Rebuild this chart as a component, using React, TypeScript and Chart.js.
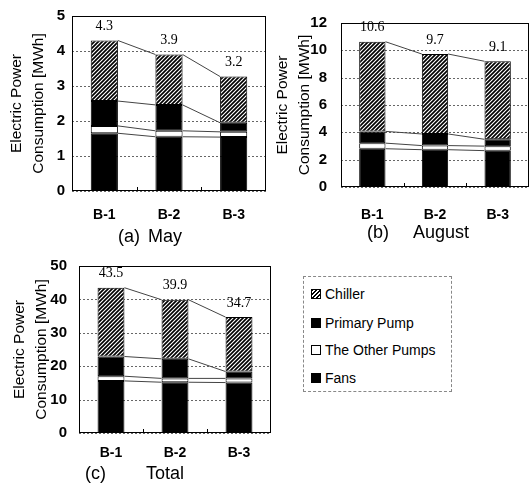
import React, { useEffect, useRef } from 'react';
import { Chart, registerables } from 'chart.js';

Chart.register(...registerables);

// ---------- data ----------
const categories = ['B-1', 'B-2', 'B-3'];
const axisTitle = ['Electric Power', 'Consumption [MWh]'];
const legendLabels = ['Chiller', 'Primary Pump', 'The Other Pumps', 'Fans'];

// (a) May
const mayFans = [1.65, 1.55, 1.54];
const mayOther = [0.21, 0.17, 0.15];
const mayPrimary = [0.71, 0.74, 0.26];
const mayChiller = [1.73, 1.44, 1.32];
const mayTotals = [4.3, 3.9, 3.2];
const mayTicks = [0, 1, 2, 3, 4, 5];

// (b) August
const augFans = [2.8, 2.73, 2.66];
const augOther = [0.41, 0.3, 0.33];
const augPrimary = [0.86, 0.85, 0.5];
const augChiller = [6.56, 5.85, 5.71];
const augTotals = [10.6, 9.7, 9.1];
const augTicks = [0, 2, 4, 6, 8, 10, 12];

// (c) Total
const totFans = [15.6, 15.2, 15.1];
const totOther = [1.4, 1.15, 1.25];
const totPrimary = [5.9, 5.85, 2.05];
const totChiller = [20.6, 17.7, 16.3];
const totTotals = [43.5, 39.9, 34.7];
const totTicks = [0, 10, 20, 30, 40, 50];

const SANS = '"Liberation Sans", Arial, Helvetica, sans-serif';
const SERIF = '"Liberation Serif", "Times New Roman", serif';

function makeHatch(): CanvasPattern | string {
  const c = document.createElement('canvas');
  c.width = 4;
  c.height = 4;
  const g = c.getContext('2d');
  if (!g) return '#555';
  g.fillStyle = '#fff';
  g.fillRect(0, 0, 4, 4);
  g.strokeStyle = '#000';
  g.lineWidth = 1.7;
  g.beginPath();
  g.moveTo(0, 4); g.lineTo(4, 0);
  g.moveTo(-1, 1); g.lineTo(1, -1);
  g.moveTo(3, 5); g.lineTo(5, 3);
  g.stroke();
  return g.createPattern(c, 'repeat') || '#555';
}

const decorPlugin = {
  id: 'decor',
  beforeDatasetsDraw(chart: any) {
    // dotted horizontal grid lines
    const ctx = chart.ctx as CanvasRenderingContext2D;
    const ys = chart.scales.y;
    const { left, right } = chart.chartArea;
    ctx.save();
    ctx.strokeStyle = '#666';
    ctx.lineWidth = 1;
    ctx.setLineDash([2, 2]);
    ys.ticks.forEach((t: any) => {
      const py = Math.round(ys.getPixelForValue(t.value)) + 0.5;
      ctx.beginPath();
      ctx.moveTo(left, py);
      ctx.lineTo(right, py);
      ctx.stroke();
    });
    ctx.restore();
  },
  afterDatasetsDraw(chart: any, _args: any, opts: any) {
    const ctx = chart.ctx as CanvasRenderingContext2D;
    const n = chart.data.datasets.length;
    ctx.save();
    // connecting lines between stacked segment tops
    ctx.strokeStyle = '#444';
    ctx.lineWidth = 1;
    for (let d = 0; d < n; d++) {
      const meta = chart.getDatasetMeta(d);
      for (let i = 0; i < meta.data.length - 1; i++) {
        const a: any = meta.data[i];
        const b: any = meta.data[i + 1];
        ctx.beginPath();
        ctx.moveTo(a.x + a.width / 2, a.y);
        ctx.lineTo(b.x - b.width / 2, b.y);
        ctx.stroke();
      }
    }
    // total labels
    const topMeta = chart.getDatasetMeta(n - 1);
    const totals: number[] = opts.totals || [];
    ctx.fillStyle = '#000';
    ctx.font = '14px ' + SERIF;
    ctx.textAlign = 'center';
    ctx.textBaseline = 'bottom';
    topMeta.data.forEach((el: any, i: number) => {
      if (totals[i] !== undefined) ctx.fillText(totals[i].toFixed(1), el.x, el.y - 7);
    });
    // frame
    const { left, top, right, bottom } = chart.chartArea;
    ctx.strokeStyle = '#000';
    ctx.lineWidth = 1;
    ctx.strokeRect(Math.round(left) + 0.5, Math.round(top) + 0.5, Math.round(right - left) - 1, Math.round(bottom - top) - 1);
    // small inner ticks at category boundaries
    const xs = chart.scales.x;
    for (let i = 1; i < chart.data.labels.length; i++) {
      const px = Math.round((xs.getPixelForValue(i - 1) + xs.getPixelForValue(i)) / 2) + 0.5;
      ctx.beginPath();
      ctx.moveTo(px, bottom);
      ctx.lineTo(px, bottom - 4);
      ctx.stroke();
    }
    ctx.restore();
  },
};

type Cfg = {
  left: number; top: number; w: number; h: number;
  fans: number[]; other: number[]; primary: number[]; chiller: number[]; totals: number[];
  ticks: number[];
  padTop: number; padRight: number; yWidth: number; xHeight: number;
  xPad: number; yPad: number; titlePad: number;
};

function StackChart({ cfg }: { cfg: Cfg }) {
  const ref = useRef<HTMLCanvasElement>(null);
  useEffect(() => {
    if (!ref.current) return;
    const hatch = makeHatch();
    const common = { borderColor: '#000', borderWidth: 1, borderSkipped: false as any };
    const chart = new Chart(ref.current, {
      type: 'bar',
      data: {
        labels: categories,
        datasets: [
          { label: legendLabels[3], data: cfg.fans, backgroundColor: '#000', ...common },
          { label: legendLabels[2], data: cfg.other, backgroundColor: '#fff', ...common },
          { label: legendLabels[1], data: cfg.primary, backgroundColor: '#000', ...common },
          { label: legendLabels[0], data: cfg.chiller, backgroundColor: hatch as any, ...common },
        ],
      },
      options: {
        responsive: false,
        animation: false,
        events: [],
        datasets: { bar: { categoryPercentage: 1, barPercentage: 0.42 } },
        layout: { padding: { left: 0, top: cfg.padTop, right: cfg.padRight, bottom: 0 } },
        plugins: {
          legend: { display: false },
          tooltip: { enabled: false },
          decor: { totals: cfg.totals },
        } as any,
        scales: {
          x: {
            stacked: true,
            grid: { display: false },
            border: { display: false },
            ticks: {
              color: '#000',
              font: { family: SANS, size: 14, weight: 'bold' },
              padding: cfg.xPad,
              maxRotation: 0,
              autoSkip: false,
            },
            afterFit: (s: any) => { s.height = cfg.xHeight; },
          },
          y: {
            stacked: true,
            min: cfg.ticks[0],
            max: cfg.ticks[cfg.ticks.length - 1],
            ticks: {
              stepSize: cfg.ticks[1] - cfg.ticks[0],
              color: '#000',
              font: { family: SANS, size: 15, weight: 'bold' },
              padding: cfg.yPad,
            },
            grid: { display: false, drawTicks: false },
            border: { display: false },
            title: {
              display: true,
              text: axisTitle,
              color: '#000',
              font: { family: SANS, size: 15.5, lineHeight: 1.4 },
              padding: { top: cfg.titlePad, bottom: 0 },
            },
            afterFit: (s: any) => { s.width = cfg.yWidth; },
          },
        },
      } as any,
      plugins: [decorPlugin],
    });
    return () => chart.destroy();
  }, []);
  return (
    <canvas
      ref={ref}
      width={cfg.w}
      height={cfg.h}
      style={{ position: 'absolute', left: cfg.left, top: cfg.top, width: cfg.w, height: cfg.h }}
    />
  );
}

const cfgA: Cfg = {
  left: 0, top: 0, w: 270, h: 240,
  fans: mayFans, other: mayOther, primary: mayPrimary, chiller: mayChiller, totals: mayTotals, ticks: mayTicks,
  padTop: 10, padRight: 4, yWidth: 72, xHeight: 49, xPad: 8, yPad: 7, titlePad: 6,
};
const cfgB: Cfg = {
  left: 270, top: 0, w: 260, h: 240,
  fans: augFans, other: augOther, primary: augPrimary, chiller: augChiller, totals: augTotals, ticks: augTicks,
  padTop: 12, padRight: 1, yWidth: 71, xHeight: 53, xPad: 12, yPad: 14, titlePad: 2,
};
const cfgC: Cfg = {
  left: 0, top: 245, w: 290, h: 241,
  fans: totFans, other: totOther, primary: totPrimary, chiller: totChiller, totals: totTotals, ticks: totTicks,
  padTop: 10, padRight: 19, yWidth: 79, xHeight: 53, xPad: 4, yPad: 12, titlePad: 9,
};

const subLetters = ['(a)', '(b)', '(c)'];
const subNames = ['May', 'August', 'Total'];

function Subtitle({ idx, left, gap, centerY }: { idx: number; left: number; gap: number; centerY: number }) {
  return (
    <div
      style={{
        position: 'absolute', left, top: centerY - 10, height: 20, lineHeight: '20px',
        fontFamily: SANS, fontSize: 18, color: '#000', whiteSpace: 'nowrap',
      }}
    >
      <span>{subLetters[idx]}</span>
      <span style={{ marginLeft: gap }}>{subNames[idx]}</span>
    </div>
  );
}

function Legend() {
  const centers = [17, 46, 73, 101];
  const swatch = (i: number): React.CSSProperties => {
    const base: React.CSSProperties = {
      position: 'absolute', left: 7, top: centers[i] - 5, width: 10, height: 10,
      boxSizing: 'border-box', border: '1px solid #000',
    };
    if (i === 0) return { ...base, background: 'repeating-linear-gradient(135deg, #000 0px, #000 1.4px, #fff 1.4px, #fff 2.8px)' };
    if (i === 2) return { ...base, background: '#fff' };
    return { ...base, background: '#000' };
  };
  return (
    <div
      style={{
        position: 'absolute', left: 303, top: 276, width: 149, height: 116,
        boxSizing: 'border-box', border: '1px dashed #888',
      }}
    >
      {legendLabels.map((lab, i) => (
        <React.Fragment key={lab}>
          <div style={swatch(i)} />
          <div
            style={{
              position: 'absolute', left: 21, top: centers[i] - 9, height: 18, lineHeight: '18px',
              fontFamily: SANS, fontSize: 14, color: '#000', whiteSpace: 'nowrap',
            }}
          >
            {lab}
          </div>
        </React.Fragment>
      ))}
    </div>
  );
}

export default function App() {
  return (
    <div style={{ position: 'absolute', left: 0, top: 0, width: 530, height: 486, background: '#fff', overflow: 'hidden' }}>
      <StackChart cfg={cfgA} />
      <StackChart cfg={cfgB} />
      <StackChart cfg={cfgC} />
      <Subtitle idx={0} left={118} gap={8} centerY={236} />
      <Subtitle idx={1} left={367} gap={24} centerY={232} />
      <Subtitle idx={2} left={85} gap={40} centerY={473} />
      <Legend />
    </div>
  );
}
